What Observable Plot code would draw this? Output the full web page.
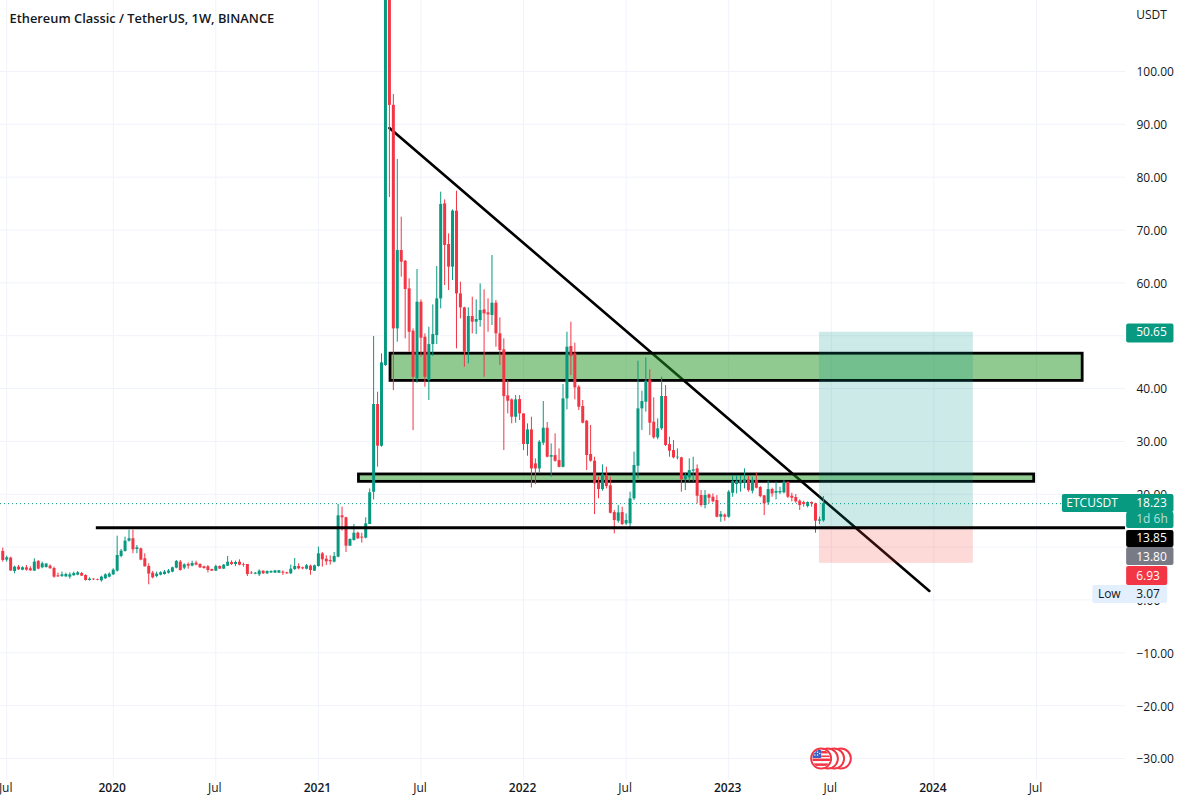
<!DOCTYPE html>
<html>
<head>
<meta charset="utf-8">
<script src="https://cdn.jsdelivr.net/npm/d3@7"></script>
<script src="https://cdn.jsdelivr.net/npm/@observablehq/plot@0.6"></script>
<style>
html,body{margin:0;padding:0;background:#fff;overflow:hidden}
svg{display:block}
</style>
</head>
<body>
<div id="chart"></div>
<script>
const FONT = '"Open Sans", sans-serif';
const UP = "#089981", DOWN = "#f23645";

const firstWeek = "2019-06-24";
const direction = "rgrgrgrrgr"+"ggrrrggggg"+"rrgrrggggg"+"gggrgrrrrg"+"gggggrgrgr"+"rrrrgrggrg"+"rrrrggrggg"+"grrggrrgrg"+"grrrggrrgg"+"rrgggrggrr"+"grrrrgrrgg"+"ggrrgrrrgr"+"ggrrgrrrrr"+"grrgrrggrg"+"rrggrrrrrr"+"rrgrrrgrgg"+"ggggrrggrr"+"rgrgggrrgr"+"rrgrgggggr"+"grrrgrgggr"+"rrrrgrrgg";
const bodyTop = [
9.18,7.98,7.92,6.21,6.21,6.09,6.09,5.9,7.16,7.29,
6.84,6.78,6.4,5.96,4.57,4.76,4.82,4.76,5.01,5.14,
5.01,4.63,3.94,3.94,3.88,4.32,4.76,4.89,5.64,8.42,
9.24,11.13,11.58,11.58,9.87,9.68,7.79,6.34,5.08,4.89,
5.14,5.27,5.46,6.09,7.29,7.16,6.65,6.72,6.9,6.96,
6.71,6.27,6.27,5.77,6.33,6.33,6.59,7.15,7.09,7.09,
7.15,6.71,6.71,5.07,5.07,5.45,5.45,5.39,5.39,5.51,
5.51,5.26,5.13,5.83,6.33,6.33,6.08,6.46,6.4,6.46,
8.73,8.73,7.72,7.47,8.23,15.92,15.92,15.55,11.44,12.64,
12.64,11.89,14.41,20.28,36.98,36.98,44.86,130,130,93.6,
66.12,66.12,64.1,58.87,50.85,56.34,56.34,49.72,48.33,50.22,
56.97,74.83,74.96,67.26,73.57,73.57,57.92,55.27,53.63,53.63,
53.06,54.76,54.89,54.32,56.16,56.16,50.36,47.33,38.62,37.86,
37.86,37.92,35.21,32.18,32.18,25.75,29.85,32.5,32.5,27.32,
27.32,26.38,38.05,47.83,47.96,46.57,40.26,36.61,33.83,27.52,
26.26,22.09,23.67,23.54,21.59,16.54,16.48,16.54,15.03,19.13,
25.44,36.16,37.55,41.4,41.65,33.64,32.38,38.5,38.5,29.41,
28.28,27.01,26.89,23.54,24.49,24.62,24.81,19.76,19.76,19.88,
19.44,18.81,16.16,16.04,20.39,22.41,22.41,22.6,22.72,22.72,
22.6,22.6,21.27,19.7,20.89,20.89,20.52,20.52,22.28,22.28,
19.63,19.38,18.69,18.43,18.43,18.43,18.18,15.15,18.23];
const bodyBottom = [
7.47,7.54,5.46,5.39,5.71,5.64,5.64,5.52,5.46,5.83,
6.09,6.15,5.9,4.32,4.38,4.45,4.38,4.32,4.57,4.7,
4.51,3.69,3.69,3.81,3.75,3.63,4.0,4.32,4.76,5.46,
8.23,9.18,11.13,9.49,9.56,7.54,6.28,4.89,4.19,4.45,
4.7,4.82,5.08,5.27,6.02,5.58,6.02,6.4,6.4,6.59,
6.08,5.95,5.58,5.45,5.45,5.83,5.83,6.4,6.71,6.71,
6.59,6.59,4.82,4.95,4.88,4.76,4.95,4.95,5.13,5.07,
5.07,5.07,4.95,4.95,5.77,5.89,5.89,5.83,5.58,5.45,
6.33,7.6,7.22,7.22,7.15,8.1,15.55,10.18,10.18,11.26,
11.57,11.7,11.7,14.28,20.38,29.09,29.09,44.36,93.57,51.29,
51.29,63.91,58.74,50.66,42.14,41.83,49.53,42.14,41.51,48.33,
50.03,56.97,67.07,62.97,62.97,57.92,55.27,46.88,46.88,52.56,
52.56,52.87,54.13,53.94,53.83,50.36,47.2,38.49,37.61,34.58,
34.58,35.21,29.41,29.41,24.8,24.8,24.8,29.66,27.01,27.01,
26.25,25.1,25.1,38.05,46.06,40.13,36.47,33.45,27.33,26.26,
21.97,20.89,20.89,21.46,16.41,15.03,14.9,14.27,14.4,14.4,
19.13,25.31,36.16,37.43,33.45,30.67,30.67,32.38,29.22,28.15,
26.89,26.89,22.72,22.72,23.1,24.37,19.63,17.87,17.87,19.25,
18.56,15.66,15.66,15.66,15.66,20.2,21.84,21.97,22.09,20.7,
20.58,21.15,19.57,18.18,18.37,20.07,20.2,20.26,20.26,19.44,
19.25,18.56,17.87,18.06,17.68,18.18,14.9,14.9,14.96];
const high = [
9.81,8.3,8.1,6.4,6.53,6.28,6.53,6.28,7.79,7.47,
7.16,6.91,6.65,6.21,5.08,5.27,5.08,5.14,5.27,5.39,
5.2,4.76,4.19,4.0,3.94,4.51,4.95,5.14,5.9,12.08,
9.56,11.89,13.22,13.22,10.31,9.81,8.74,6.84,5.39,5.27,
5.33,5.58,5.77,6.21,7.47,7.47,6.84,7.03,7.34,7.34,
6.84,6.4,6.52,5.83,6.59,6.46,6.71,8.23,7.41,7.34,
7.6,6.96,6.71,5.39,5.2,5.7,5.51,5.51,5.51,5.58,
5.58,5.51,5.26,6.59,7.85,6.84,6.21,6.71,6.59,6.59,
9.99,8.98,8.35,8.35,8.98,18.07,17.57,15.67,11.57,14.28,
12.83,12.64,15.55,21.0,49.85,39.31,46.57,176,150,95.65,
83.35,72.43,64.23,60.76,51.29,62.53,56.78,50.35,51.61,55.84,
63.09,77.16,75.71,69.28,73.82,77.35,60.13,55.4,55.27,57.29,
56.78,59.81,58.68,56.97,65.18,56.67,53.38,49.41,41.52,38.05,
38.68,38.68,35.21,33.32,34.58,26.69,30.16,37.55,33.57,29.53,
31.43,28.59,40.76,50.67,52.56,48.59,40.57,37.74,33.96,33.01,
27.01,23.23,25.56,25.12,23.23,16.92,17.87,17.55,16.29,20.39,
27.96,45.19,39.51,45.82,43.55,38.25,34.27,42.16,40.58,30.8,
30.17,28.59,27.01,23.99,26.7,27.01,25.56,20.7,20.7,20.07,
20.07,19.76,16.73,16.29,20.7,23.54,23.54,23.54,24.81,23.35,
23.23,23.99,21.46,19.76,22.47,21.15,22.28,21.34,22.6,22.28,
20.2,19.95,18.94,18.69,18.56,18.56,18.31,15.66,19.57];
const low = [
7.16,7.16,5.46,4.95,5.58,5.52,5.46,5.39,5.39,5.71,
5.9,6.02,5.83,4.13,4.26,4.26,4.26,3.94,4.51,4.57,
4.45,3.56,3.56,3.69,3.63,3.37,3.88,4.19,4.63,5.27,
7.98,9.05,10.94,8.74,8.74,7.41,6.21,2.87,4.0,4.19,
4.57,4.7,4.89,5.14,5.9,5.46,5.71,5.83,6.27,6.46,
5.96,5.83,5.13,5.39,5.39,5.77,5.77,6.33,6.52,6.33,
6.46,6.21,4.44,4.82,4.76,4.44,4.82,4.82,5.01,5.01,
5.01,4.63,4.82,4.82,5.58,5.7,5.7,5.7,4.69,5.39,
6.21,6.21,6.52,6.59,7.03,7.97,13.02,8.98,10.12,11.13,
11.44,10.75,11.57,14.28,18.93,25.12,28.9,44.2,76.16,39.62,
48.77,61.07,49.4,46.88,32.05,41.01,45.94,40.25,37.73,46.06,
48.33,55.08,59.5,58.55,60.44,47.51,53.19,44.04,44.67,50.35,
50.22,51.61,42.14,50.66,51.93,47.83,44.36,28.27,35.21,33.32,
33.44,33.95,28.27,27.2,21.2,21.83,23.85,29.22,26.88,23.22,
26.06,24.99,24.99,35.97,42.47,37.86,35.84,33.32,24.49,26.07,
16.16,19.13,20.58,21.02,16.29,12.5,14.52,14.08,14.08,13.45,
18.81,22.91,32.06,35.53,31.12,30.42,30.3,32.06,29.03,27.01,
26.7,26.51,20.39,20.7,22.28,22.28,18.18,17.55,17.23,18.18,
18.37,15.53,14.71,14.9,15.47,19.44,20.07,20.39,21.02,20.39,
20.07,21.02,19.32,15.97,17.87,19.44,18.94,19.95,20.07,19.19,
18.56,18.31,16.92,17.55,17.42,17.55,12.63,14.27,14.71];

const priceTicks = [100,90,80,70,60,50,40,30,20,10,0,-10,-20,-30];
const halfYearTicks = ["2019-07-01","2020-07-06","2021-07-05","2022-07-04","2023-07-03","2024-07-01"];
const yearTicks = ["2020-01-06","2021-01-04","2022-01-03","2023-01-02","2024-01-01"];
const yearLabels = ["2020","2021","2022","2023","2024"];

const zones = [
  {x1:"2021-05-12", x2:"2024-09-21", top:46.6, bottom:41.45},
  {x1:"2021-03-17", x2:"2024-06-27", top:23.75, bottom:22.35}
];
const trend = [{d:"2021-05-10", p:89.3},{d:"2023-12-24", p:1.7}];
const longBox  = {x1:"2023-06-12", x2:"2024-03-11", top:50.65, bottom:13.85};
const shortBox = {x1:"2023-06-12", x2:"2024-03-11", top:13.85, bottom:6.93};
const supportLine = {price:13.65, from:"2019-12-07", to:"2024-12-06"};
const lastPrice = 18.23;
const events = ["2023-07-20","2023-07-08","2023-06-27","2023-06-15"];
const flag = "data:image/svg+xml," + encodeURIComponent(
  '<svg xmlns="http://www.w3.org/2000/svg" viewBox="0 0 20 20">' +
  '<rect width="20" height="20" fill="#fff"/>' +
  '<rect y="10" width="20" height="2.8" fill="#f23645"/><rect y="15.4" width="20" height="2.8" fill="#f23645"/>' +
  '<rect y="1.6" x="10" width="10" height="2.8" fill="#f23645"/><rect y="6.6" x="10" width="10" height="1.8" fill="#f23645"/>' +
  '<rect width="10" height="9.4" fill="#3a5fc0"/>' +
  '<g fill="#fff"><circle cx="3" cy="3" r=".8"/><circle cx="6" cy="3" r=".8"/><circle cx="3" cy="6" r=".8"/><circle cx="6" cy="6" r=".8"/><circle cx="8.5" cy="4.5" r=".8"/></g>' +
  '</svg>');

const tags = [
  {x1:"2024-12-08", x2:"2025-03-02", top:52.2,  bottom:48.6, fill:"#089981"},
  {x1:"2024-08-16", x2:"2025-03-02", top:19.96, bottom:16.55, fill:"#089981"},
  {x1:"2024-12-08", x2:"2025-03-02", top:16.6,  bottom:13.5, fill:"#089981"},
  {x1:"2024-12-08", x2:"2025-03-02", top:13.15, bottom:9.93, fill:"#000000"},
  {x1:"2024-12-08", x2:"2025-03-02", top:9.93,  bottom:6.53, fill:"#787b86"},
  {x1:"2024-12-08", x2:"2025-02-19", top:6.34,  bottom:2.74, fill:"#f23645"},
  {x1:"2024-10-09", x2:"2025-02-19", top:2.74,  bottom:-0.66, fill:"#e3effd"}
];
const tagTexts = [
  {x:"2024-12-25", y:50.6,  t:"50.65", fill:"#fff", w:400},
  {x:"2024-08-23", y:18.23, t:"ETCUSDT", fill:"#fff", w:600},
  {x:"2024-12-25", y:18.23, t:"18.23", fill:"#fff", w:400},
  {x:"2024-12-25", y:15.2,  t:"1d 6h", fill:"#b8e0d8", w:400},
  {x:"2024-12-25", y:11.64, t:"13.85", fill:"#fff", w:400},
  {x:"2024-12-25", y:8.14,  t:"13.80", fill:"#fff", w:400},
  {x:"2024-12-25", y:4.54,  t:"6.93", fill:"#fff", w:400},
  {x:"2024-10-18", y:1.04,  t:"Low", fill:"#131722", w:400},
  {x:"2024-12-25", y:1.04,  t:"3.07", fill:"#131722", w:400}
];

const d = s => new Date(s + "T00:00:00Z");
const t0 = d(firstWeek);
const candles = bodyTop.map((top, i) => ({
  date: new Date(+t0 + i * 7 * 864e5),
  top, bottom: bodyBottom[i], high: high[i], low: low[i],
  color: direction[i] === "g" ? UP : DOWN
}));
const rectOf = r => ({x1:d(r.x1), x2:d(r.x2), top:r.top, bottom:r.bottom, fill:r.fill});
const allDates = [...halfYearTicks, ...yearTicks].map(d);

const chart = Plot.plot({
  width: 1187, height: 805,
  marginTop: 0, marginRight: 62, marginBottom: 25, marginLeft: 0,
  style: {background: "#fff", fontFamily: FONT},
  x: {type: "utc", domain: [d("2019-06-20"), d("2024-12-06")], range: [0, 1125]},
  y: {domain: [-34.16, 113.43], range: [780, 0]},
  marks: [
    Plot.gridY(priceTicks, {stroke: "#f0f3fa", strokeOpacity: 1}),
    Plot.gridX(allDates, {stroke: "#f0f3fa", strokeOpacity: 1}),
    Plot.axisY(priceTicks, {anchor: "right", label: null, tickSize: 0, tickPadding: 11, dy: 1, fontSize: 12, fill: "#131722", tickFormat: d3.format(".2f")}),
    Plot.axisX(halfYearTicks.map(d), {label: null, tickSize: 0, tickPadding: 3, dx: -1, fontSize: 12, fill: "#131722", tickFormat: () => "Jul"}),
    Plot.axisX(yearTicks.map(d), {label: null, tickSize: 0, tickPadding: 3, dx: -1, fontSize: 12, fontWeight: 600, fill: "#131722", tickFormat: (v, i) => yearLabels[i]}),
    Plot.ruleY([lastPrice], {x1: d("2019-06-20"), x2: d("2024-08-16"), stroke: UP, strokeWidth: 1, strokeDasharray: "1 3"}),
    Plot.line(trend, {x: r => d(r.d), y: "p", stroke: "#000", strokeWidth: 2.6}),
    Plot.rect(zones.map(rectOf), {x1: "x1", x2: "x2", y1: "bottom", y2: "top", fill: "rgb(34,150,34)", fillOpacity: 0.5, stroke: "#000", strokeWidth: 2.8}),
    Plot.rect([rectOf(longBox)], {x1: "x1", x2: "x2", y1: "bottom", y2: "top", fill: "#009688", fillOpacity: 0.2}),
    Plot.rect([rectOf(shortBox)], {x1: "x1", x2: "x2", y1: "bottom", y2: "top", fill: "#f44336", fillOpacity: 0.2}),
    Plot.ruleX(candles, {x: "date", y1: "low", y2: "high", stroke: "color", strokeWidth: 1, clip: "frame"}),
    Plot.ruleX(candles, {x: "date", y1: "bottom", y2: "top", stroke: "color", strokeWidth: 3, clip: "frame"}),
    Plot.ruleY([supportLine.price], {x1: d(supportLine.from), x2: d(supportLine.to), stroke: "#000", strokeWidth: 3}),
    Plot.dot(events, {x: e => d(e), y: () => -30, r: 10, fill: "#fff", stroke: DOWN, strokeWidth: 2}),
    Plot.image(events.slice(-1), {x: e => d(e), y: () => -30, src: () => flag, width: 18, height: 18, r: 9}),
    Plot.rect(tags.map(rectOf), {x1: "x1", x2: "x2", y1: "bottom", y2: "top", fill: "fill", rx: 2}),
    Plot.text(tagTexts, {x: r => d(r.x), y: "y", text: "t", fill: "fill", fontSize: 12, textAnchor: "start", fontWeight: r => r.w}),
    Plot.text(["USDT"], {x: d("2024-12-25"), y: 110.6, fill: "#131722", fontSize: 12, textAnchor: "start"}),
    Plot.text(["Ethereum Classic / TetherUS, 1W, BINANCE"], {frameAnchor: "top-left", dx: 9, dy: 13, fill: "#131722", fontSize: 12.85, fontWeight: 600, textAnchor: "start"})
  ]
});
document.getElementById("chart").appendChild(chart);
</script>
</body>
</html>
